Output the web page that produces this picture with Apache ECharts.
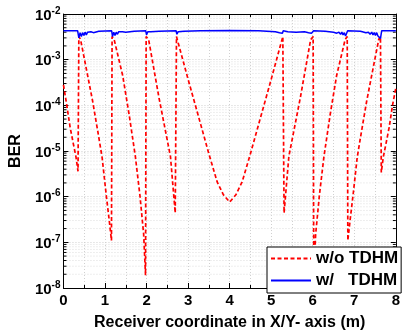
<!DOCTYPE html>
<html>
<head>
<meta charset="utf-8">
<script src="https://cdn.jsdelivr.net/npm/echarts@6/dist/echarts.min.js"></script>
<style>
  html, body { margin: 0; padding: 0; background: #fff; }
  #chart { width: 403px; height: 336px; }
</style>
</head>
<body>
<div id="chart"></div>
<script>
// BER along the receiver path, without TDHM (red dashed)
var woX = [0, 0.08, 0.16, 0.24, 0.30, 0.35,
    0.37, 0.41, 0.55, 0.70, 0.85, 0.93, 1.03, 1.10, 1.155,
    1.17, 1.22, 1.425, 1.58, 1.73, 1.84, 1.93, 1.975,
    1.99, 2.05, 2.30, 2.575, 2.69,
    2.72, 2.74, 3.0, 3.25, 3.5, 3.7, 3.85, 4.0,
    4.15, 4.3, 4.5, 4.75, 5.0, 5.26, 5.28,
    5.31, 5.425, 5.70, 5.95, 6.01,
    6.025, 6.07, 6.16, 6.27, 6.42, 6.575, 6.78, 6.83,
    6.845, 6.90, 6.97, 7.07, 7.15, 7.30, 7.45, 7.59, 7.63,
    7.65, 7.70, 7.76, 7.84, 7.92, 8.0];
var woY = [2.8e-4, 1.0e-4, 3.3e-5, 1.4e-5, 7.5e-6, 3.6e-6,
    3.2e-3, 2.8e-3, 6.3e-4, 1.26e-4, 2.0e-5, 7.2e-6, 1.07e-6, 3.1e-7, 1.1e-7,
    3.2e-3, 2.75e-3, 4.5e-4, 6.3e-5, 7.6e-6, 1.07e-6, 1.5e-7, 1.9e-8,
    3.2e-3, 2.75e-3, 1.45e-4, 7.6e-6, 4.4e-7,
    3.2e-3, 2.75e-3, 3.7e-4, 5.7e-5, 8.7e-6, 2.1e-6, 1.1e-6, 7.6e-7,
    1.1e-6, 2.1e-6, 8.7e-6, 5.7e-5, 3.7e-4, 2.75e-3, 3.2e-3,
    4.4e-7, 7.6e-6, 1.45e-4, 2.75e-3, 3.2e-3,
    1.9e-8, 1.5e-7, 1.07e-6, 7.6e-6, 6.3e-5, 4.5e-4, 2.75e-3, 3.2e-3,
    1.1e-7, 3.1e-7, 1.07e-6, 7.2e-6, 2.0e-5, 1.26e-4, 6.3e-4, 2.8e-3, 3.2e-3,
    3.4e-6, 7.5e-6, 1.4e-5, 3.3e-5, 1.0e-4, 2.4e-4];

// BER with TDHM (blue solid)
var wX = [0, 0.34, 0.37, 0.40, 0.43, 0.46, 0.49, 0.52, 0.55, 0.58, 0.62, 0.66, 0.72, 0.85,
    1.16, 1.18, 1.21, 1.24, 1.27, 1.30, 1.33, 1.37, 1.42, 1.5, 1.7,
    1.98, 2.0, 2.03, 2.06, 2.1, 2.3, 2.71, 2.73, 2.76, 2.8, 2.9, 3.3, 4.0,
    4.7, 5.1, 5.2, 5.24, 5.27, 5.29, 5.4, 5.6, 5.8, 5.9, 5.94, 5.97, 6.0, 6.02,
    6.3, 6.5, 6.58, 6.63, 6.67, 6.70, 6.73, 6.76, 6.79, 6.82, 6.84,
    7.15, 7.28, 7.34, 7.38, 7.42, 7.45, 7.48, 7.51, 7.54, 7.57, 7.60, 7.63, 7.66, 8.0];
var wY = [4.3e-3, 4.3e-3, 3.0e-3, 3.9e-3, 3.2e-3, 3.9e-3, 3.4e-3, 4.0e-3, 3.5e-3, 4.0e-3, 3.7e-3, 4.1e-3, 3.9e-3, 4.2e-3,
    4.3e-3, 3.2e-3, 4.0e-3, 3.4e-3, 4.0e-3, 3.6e-3, 4.1e-3, 3.8e-3, 4.1e-3, 4.0e-3, 4.2e-3,
    4.3e-3, 3.5e-3, 4.1e-3, 3.8e-3, 4.1e-3, 4.2e-3, 4.3e-3, 3.6e-3, 4.1e-3, 3.9e-3, 4.2e-3, 4.3e-3, 4.35e-3,
    4.3e-3, 4.1e-3, 3.9e-3, 4.1e-3, 3.8e-3, 4.3e-3, 4.1e-3, 4.0e-3, 4.1e-3, 3.9e-3, 4.1e-3, 3.8e-3, 3.6e-3, 4.3e-3,
    4.2e-3, 4.0e-3, 3.8e-3, 4.0e-3, 3.6e-3, 4.0e-3, 3.5e-3, 3.9e-3, 3.3e-3, 3.0e-3, 4.3e-3,
    4.2e-3, 3.9e-3, 4.0e-3, 3.6e-3, 4.0e-3, 3.5e-3, 3.9e-3, 3.4e-3, 3.9e-3, 3.3e-3, 3.6e-3, 2.9e-3, 4.3e-3, 4.3e-3];

var seriesNames = ['w/o TDHM', 'w/   TDHM'];
var xTicks = [0, 1, 2, 3, 4, 5, 6, 7, 8];
var yDecades = [-8, -7, -6, -5, -4, -3, -2];

var font = "'Liberation Sans', Arial, sans-serif";

function pairs(xs, ys) {
    return xs.map(function (x, i) { return [x, ys[i]]; });
}

// minor log grid positions (2..9 in each decade)
var minorVals = [];
for (var d = 0; d < yDecades.length - 1; d++) {
    for (var k = 2; k <= 9; k++) {
        minorVals.push([0, k * Math.pow(10, yDecades[d])]);
    }
}

var chart = echarts.init(document.getElementById('chart'), null, {renderer: 'canvas'});

var gridLine = {show: true, lineStyle: {color: '#d0d0d0', type: [1, 2], width: 1}};

var option = {
    animation: false,
    backgroundColor: '#fff',
    grid: {left: 53, right: 2, top: 14, bottom: 41, containLabel: false},
    legend: {
        left: 267,
        top: 247,
        orient: 'vertical',
        data: seriesNames,
        itemWidth: 40,
        itemHeight: 12,
        itemGap: 5,
        padding: [3, 3, 4, 3],
        backgroundColor: '#fff',
        borderColor: '#000',
        borderWidth: 1,
        borderRadius: 0,
        itemStyle: {opacity: 0},
        textStyle: {fontFamily: font, fontWeight: 'bold', fontSize: 17, color: '#000'}
    },
    xAxis: [{
        type: 'value',
        min: 0,
        max: 8,
        interval: 1,
        name: 'Receiver coordinate in X/Y- axis (m)',
        nameLocation: 'middle',
        nameGap: 27,
        nameTextStyle: {fontFamily: font, fontWeight: 'bold', fontSize: 16, color: '#000'},
        axisLine: {show: true, onZero: false, lineStyle: {color: '#000', width: 1}},
        axisTick: {show: true, inside: true, length: 5, lineStyle: {color: '#000'}},
        minorTick: {show: true, splitNumber: 2, length: 3, lineStyle: {color: '#000'}},
        axisLabel: {
            margin: 5,
            fontFamily: font, fontWeight: 'bold', fontSize: 15, color: '#000',
            formatter: function (v) { return xTicks.indexOf(v) >= 0 ? String(v) : ''; }
        },
        splitLine: gridLine,
        minorSplitLine: gridLine
    }, {
        type: 'value',
        position: 'top',
        min: 0,
        max: 8,
        interval: 1,
        axisLine: {show: true, onZero: false, lineStyle: {color: '#000', width: 1}},
        axisTick: {show: true, inside: true, length: 5, lineStyle: {color: '#000'}},
        minorTick: {show: true, splitNumber: 2, length: 3, lineStyle: {color: '#000'}},
        axisLabel: {show: false},
        splitLine: {show: false}
    }],
    yAxis: [{
        type: 'log',
        logBase: 10,
        min: 1e-8,
        max: 1e-2,
        name: 'BER',
        nameLocation: 'middle',
        nameGap: 36,
        nameTextStyle: {fontFamily: font, fontWeight: 'bold', fontSize: 16, color: '#000'},
        axisLine: {show: true, onZero: false, lineStyle: {color: '#000', width: 1}},
        axisTick: {show: true, inside: true, length: 5, lineStyle: {color: '#000'}},
        axisLabel: {
            margin: 3,
            formatter: function (v) {
                var e = Math.round(Math.log(v) / Math.LN10);
                return '{b|10}{s|' + e + '}';
            },
            rich: {
                b: {fontFamily: font, fontWeight: 'bold', fontSize: 15, color: '#000', lineHeight: 18, verticalAlign: 'bottom'},
                s: {fontFamily: font, fontWeight: 'bold', fontSize: 10, color: '#000', lineHeight: 18, verticalAlign: 'top', padding: [1, 0, 0, 0]}
            }
        },
        splitLine: gridLine
    }, {
        type: 'log',
        logBase: 10,
        min: 1e-8,
        max: 1e-2,
        position: 'right',
        axisLine: {show: true, onZero: false, lineStyle: {color: '#000', width: 1}},
        axisTick: {show: true, inside: true, length: 5, lineStyle: {color: '#000'}},
        axisLabel: {show: false},
        splitLine: {show: false}
    }],
    series: [{
        // minor log grid lines and minor ticks on both y sides
        type: 'custom',
        silent: true,
        z: 0,
        xAxisIndex: 0,
        yAxisIndex: 0,
        data: minorVals,
        renderItem: function (params, api) {
            var pl = api.coord([0, api.value(1)]);
            var pr = api.coord([8, api.value(1)]);
            return {
                type: 'group',
                children: [{
                    type: 'line',
                    shape: {x1: pl[0], y1: pl[1], x2: pr[0], y2: pr[1]},
                    style: {stroke: '#dcdcdc', lineWidth: 1, lineDash: [1, 2]}
                }, {
                    type: 'line',
                    shape: {x1: pl[0], y1: pl[1], x2: pl[0] + 3, y2: pl[1]},
                    style: {stroke: '#000', lineWidth: 1}
                }, {
                    type: 'line',
                    shape: {x1: pr[0] - 3, y1: pr[1], x2: pr[0], y2: pr[1]},
                    style: {stroke: '#000', lineWidth: 1}
                }]
            };
        }
    }, {
        name: seriesNames[0],
        type: 'line',
        xAxisIndex: 0,
        yAxisIndex: 0,
        symbol: 'none',
        z: 3,
        data: pairs(woX, woY),
        lineStyle: {color: '#ff0000', width: 1.7, type: [4, 2.5]},
        itemStyle: {color: '#ff0000'}
    }, {
        name: seriesNames[1],
        type: 'line',
        xAxisIndex: 0,
        yAxisIndex: 0,
        symbol: 'none',
        z: 4,
        data: pairs(wX, wY),
        lineStyle: {color: '#0000ff', width: 1.5},
        itemStyle: {color: '#0000ff'}
    }]
};

chart.setOption(option);
</script>
</body>
</html>
